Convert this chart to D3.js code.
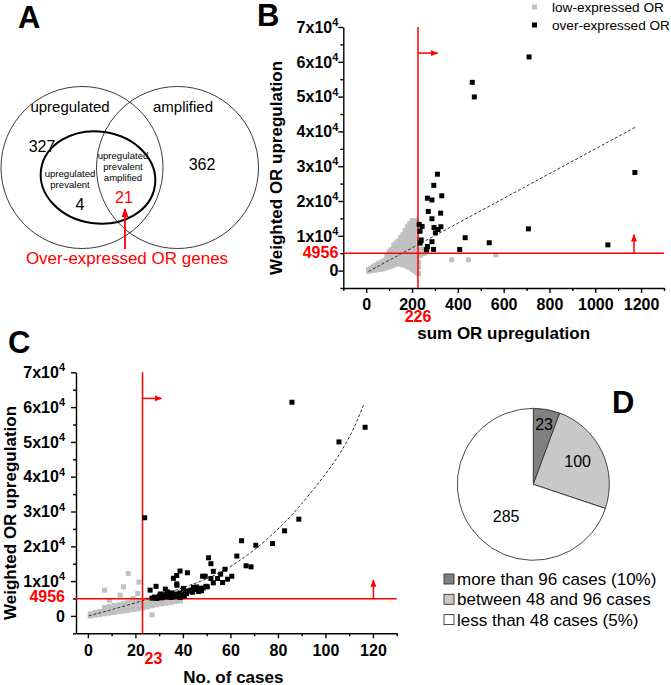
<!DOCTYPE html>
<html>
<head>
<meta charset="utf-8">
<script src="https://cdn.jsdelivr.net/npm/d3@7"></script>
<style>
body { margin: 0; background: #fff; }
text { font-family: "Liberation Sans", Arial, sans-serif; }
</style>
</head>
<body>
<div id="fig"></div>
<script>
// ---- data ----
const vennSets = ["upregulated", "amplified"];
const vennCounts = [327, 4, 21, 362];   // up only, up+prevalent, up+prev+amp, amp only

const pieLabels = ["more than 96 cases (10%)", "between 48 and 96 cases", "less than 48 cases (5%)"];
const pieValues = [23, 100, 285];
const pieColors = ["#808080", "#c8c8c8", "#ffffff"];

const cutoffWeighted = 4956;
const cutoffSum = 226;
const cutoffCases = 23;

const yTicks = [0, 10000, 20000, 30000, 40000, 50000, 60000, 70000];
const yMinor = [-5000, 5000, 15000, 25000, 35000, 45000, 55000, 65000];
const bXTicks = [0, 200, 400, 600, 800, 1000, 1200];
const bXMinor = [-100, 100, 300, 500, 700, 900, 1100, 1300];
const cXTicks = [0, 20, 40, 60, 80, 100, 120];
const cXMinor = [10, 30, 50, 70, 90, 110, 130];

// panel B: sum OR upregulation vs weighted OR upregulation
const bOver = [[711,61400],[463,54100],[472,49900],[1173,28200],[311,27700],[295,24500],[330,21500],[267,20800],
  [287,20300],[271,17000],[325,16500],[287,14900],[231,13300],[244,12700],[296,12400],[326,12600],[314,11800],
  [302,10850],[235,11300],[708,12000],[432,9450],[537,8000],[1055,7400],[408,6050],[240,8800],[235,7900],
  [287,8300],[267,6900],[263,6000],[294,6100]];
const bLow = [[10,-200],[10,300],[20,0],[20,700],[30,100],[30,1100],[40,200],[40,1500],[50,300],[50,1000],[50,1900],
  [60,400],[60,1200],[60,2200],[70,500],[70,1400],[70,2500],[80,700],[80,1700],[80,2900],[90,900],[90,1900],[90,3100],
  [90,4200],[100,1100],[100,2100],[100,3300],[100,4500],[100,5500],[110,1300],[110,2400],[110,3600],[110,4800],
  [110,6000],[120,1600],[120,2700],[120,3900],[120,5100],[120,6300],[120,7300],[130,1900],[130,3000],[130,4200],
  [130,5400],[130,6600],[130,7900],[140,2200],[140,3300],[140,4500],[140,5700],[140,7000],[140,8500],[150,1900],
  [150,3000],[150,4200],[150,5400],[150,6700],[150,8000],[150,9500],[160,1600],[160,2800],[160,4000],[160,5200],
  [160,6500],[160,7800],[160,9000],[160,10300],[170,1500],[170,2700],[170,3900],[170,5100],[170,6400],[170,7700],
  [170,9000],[170,10300],[170,11500],[180,1200],[180,2400],[180,3700],[180,5000],[180,6200],[180,7500],[180,8800],
  [180,10100],[180,11400],[180,12600],[190,900],[190,2100],[190,3500],[190,4800],[190,6000],[190,7300],[190,8600],
  [190,9900],[190,11200],[190,12500],[190,13500],[200,400],[200,1600],[200,3000],[200,4300],[200,5600],[200,7000],
  [200,8300],[200,9600],[200,10800],[200,12000],[200,13300],[200,14300],[210,0],[210,1200],[210,2500],[210,3800],
  [210,5100],[210,6400],[210,7700],[210,9000],[210,10300],[210,11600],[210,13000],[210,14400],[220,-600],[220,600],
  [220,2000],[220,3400],[220,4600],[220,6000],[220,9000],[220,11500],[220,12800],[220,14200],[228,-900],[228,1000],
  [228,2400],[228,5200],[236,4300],[240,8200],[242,6200],[252,4900],[262,5400],[267,6200],[373,3100],[446,3100],[566,4500]];
const bTrend = [[10,-250],[1175,41200]];

// panel C: no. of cases vs weighted OR upregulation
const cOver = [[85.9,61400],[116.7,54200],[105.7,50000],[23.9,28200],[88.8,27800],[82.8,24450],[77.7,20800],
  [70.7,20300],[64.7,21600],[62.7,17200],[66.6,14400],[68.7,14100],[50.8,16700],[51.8,15000],[57.7,13400],
  [52.8,12800],[55.9,12000],[60.6,11400],[58.8,10550],[56.7,9600],[52.8,9500],[54.6,10750],[51.8,10750],
  [50.3,8350],[48.3,11400],[49.4,11400],[38.8,12900],[41.9,12400],[37.4,11600],[36,10800],[37.4,9200],
  [28.7,8500],[26.2,7400],[27,5100],[28,5400],[29,5000],[30,5700],[31,5200],[32,6100],[32.6,7700],[33,5400],
  [34,5800],[35,5300],[35.5,6600],[36,6200],[37,5500],[37.5,8800],[38,6300],[38.8,6600],[39,5300],[39.8,6000],
  [40.2,7900],[40.6,5700],[41,6500],[41.6,6400],[42,7200],[43.3,7400],[44,6800],[44.4,8200],[45.8,8300],
  [45.8,7600],[46.5,7000],[47.2,7900],[47.8,7200],[48.5,8000],[49.7,8500],[33.5,6900],[30.5,6300]];
const cLow = [[1,0],[1,600],[3,200],[3,1000],[5,400],[5,1300],[7,600],[7,1600],[7,2400],[9,800],[9,1800],[9,2700],
  [11,1000],[11,2000],[11,3000],[13,1200],[13,2200],[13,3200],[15,1400],[15,2500],[15,3500],[17,1600],[17,2700],
  [17,3800],[19,1800],[19,2900],[19,4000],[21,2000],[21,3100],[21,4200],[23,2300],[23,3300],[23,4500],[25,2600],
  [25,3600],[25,4700],[27,2900],[27,3900],[27,4900],[29,3200],[29,4200],[31,3500],[31,4500],[33,3700],[33,4700],
  [35,3900],[35,4900],[37,4100],[37,5100],[39,4300],[7,7400],[9,4500],[13.6,5950],[15,8350],[17,12200],[21,6450],
  [21.5,9700],[27,300],[19,5000]];
const cTrend = [[0.3,0],[10,1800],[23,4300],[35,6900],[47.2,9800],[54.2,11900],[61.2,14600],[68.2,17950],
  [75.2,21800],[82.2,26400],[87.8,30400],[93.4,35000],[99,39800],[103.9,44300],[108.8,49600],[113,55350],[116.2,60900]];

// ---- drawing ----
const W = 671, H = 685;
const svg = d3.select("#fig").append("svg")
  .attr("width", W)
  .attr("height", H)
  .style("background", "#fff");

svg.append("defs").append("marker")
  .attr("id", "arr")
  .attr("viewBox", "0 0 10 10")
  .attr("refX", 9).attr("refY", 5)
  .attr("markerWidth", 5).attr("markerHeight", 5)
  .attr("orient", "auto")
  .append("path").attr("d", "M0,1L10,5L0,9Z").attr("fill", "#ff0000");

const panelLabel = (txt, x, y) => svg.append("text")
  .attr("x", x).attr("y", y)
  .attr("font-size", 31).attr("font-weight", "bold")
  .text(txt);

function scatter(o) {
  const g = svg.append("g");
  const x = d3.scaleLinear().domain(o.xDom).range(o.xr);
  const y = d3.scaleLinear().domain([-5000, 70000]).range(o.yr);

  // minor ticks first
  g.append("g").attr("transform", `translate(0,${o.yr[0]})`)
    .call(d3.axisBottom(x).tickValues(o.xMinor).tickSize(3).tickFormat(""))
    .call(s => s.select(".domain").remove());
  g.append("g").attr("transform", `translate(${o.xr[0]},0)`)
    .call(d3.axisLeft(y).tickValues(yMinor).tickSize(3).tickFormat(""))
    .call(s => s.select(".domain").remove());

  const ax = g.append("g").attr("transform", `translate(0,${o.yr[0]})`)
    .call(d3.axisBottom(x).tickValues(o.xTicks).tickSize(5).tickSizeOuter(0).tickPadding(6)
      .tickFormat(d3.format("d")));
  ax.selectAll("text").attr("font-size", 16).attr("font-weight", "bold").attr("fill", "#000");
  g.append("g").attr("transform", `translate(${o.xr[0]},0)`)
    .call(d3.axisLeft(y).tickValues(yTicks).tickSize(5).tickSizeOuter(0).tickFormat(""));
  g.selectAll(".domain, .tick line").attr("stroke", "#000").attr("stroke-width", 1.4);

  // y tick labels with superscript
  const yl = g.append("g").selectAll("text").data(yTicks).enter().append("text")
    .attr("x", o.xr[0] - o.yLabelGap)
    .attr("y", d => y(d))
    .attr("dy", "0.36em")
    .attr("text-anchor", "end")
    .attr("font-size", 16).attr("font-weight", "bold");
  yl.each(function(d) {
    const t = d3.select(this);
    if (d === 0) { t.text("0"); return; }
    t.append("tspan").text(d / 10000 + "x10");
    t.append("tspan").attr("font-size", 11).attr("dy", "-0.6em").text("4");
  });

  // low-expressed points
  g.append("g").selectAll("rect").data(o.low).enter().append("rect")
    .attr("x", d => x(d[0]) - 2.5).attr("y", d => y(d[1]) - 2.5)
    .attr("width", 5).attr("height", 5).attr("fill", "#c0c0c0");

  // trend line
  g.append("path").datum(o.trend)
    .attr("d", d3.line().x(d => x(d[0])).y(d => y(d[1])).curve(d3.curveBasis))
    .attr("fill", "none").attr("stroke", "#333").attr("stroke-width", 1)
    .attr("stroke-dasharray", "3,2");

  // cutoff lines
  g.append("line").attr("x1", x(o.cutX)).attr("x2", x(o.cutX))
    .attr("y1", o.yr[0]).attr("y2", o.yr[1])
    .attr("stroke", "#ff0000").attr("stroke-width", 1.5);
  g.append("line").attr("x1", o.xr[0]).attr("x2", o.xr[1])
    .attr("y1", y(cutoffWeighted)).attr("y2", y(cutoffWeighted))
    .attr("stroke", "#ff0000").attr("stroke-width", 1.5);
  g.append("line").attr("x1", x(o.cutX)).attr("x2", x(o.arrowRight[1]))
    .attr("y1", y(o.arrowRight[0])).attr("y2", y(o.arrowRight[0]))
    .attr("stroke", "#ff0000").attr("stroke-width", 1.5).attr("marker-end", "url(#arr)");
  g.append("line").attr("x1", x(o.arrowUp[0])).attr("x2", x(o.arrowUp[0]))
    .attr("y1", y(cutoffWeighted)).attr("y2", y(o.arrowUp[1]))
    .attr("stroke", "#ff0000").attr("stroke-width", 1.5).attr("marker-end", "url(#arr)");

  // over-expressed points
  g.append("g").selectAll("rect").data(o.over).enter().append("rect")
    .attr("x", d => x(d[0]) - 2.5).attr("y", d => y(d[1]) - 2.5)
    .attr("width", 5).attr("height", 5).attr("fill", "#000");

  // cutoff labels
  g.append("text").attr("x", o.xr[0] - o.cutYGap).attr("y", y(cutoffWeighted) + 3 + o.cutYdy)
    .attr("text-anchor", "end").attr("font-size", 16).attr("font-weight", "bold")
    .attr("fill", "#ff0000").text(cutoffWeighted);
  g.append("text").attr("x", x(o.cutX) + o.cutXdx).attr("y", o.cutXbase)
    .attr("text-anchor", "middle").attr("font-size", 16).attr("font-weight", "bold")
    .attr("fill", "#ff0000").text(o.cutX);

  // axis titles
  g.append("text").attr("x", (o.xr[0] + o.xr[1]) / 2 + o.xTitleDx).attr("y", o.xTitleY)
    .attr("text-anchor", "middle").attr("font-size", 17).attr("font-weight", "bold")
    .text(o.xTitle);
  g.append("text")
    .attr("transform", `translate(${o.yTitleX},${o.yTitleY}) rotate(-90)`)
    .attr("text-anchor", "middle").attr("font-size", 17).attr("font-weight", "bold")
    .text("Weighted OR upregulation");
  return { x, y };
}

// ---- panel A: Venn ----
panelLabel("A", 18, 28);
const va = svg.append("g");
va.append("circle").attr("cx", 82).attr("cy", 167.5).attr("r", 81)
  .attr("fill", "none").attr("stroke", "#222").attr("stroke-width", 0.9);
va.append("circle").attr("cx", 177.5).attr("cy", 167.5).attr("r", 81)
  .attr("fill", "none").attr("stroke", "#222").attr("stroke-width", 0.9);
va.append("ellipse").attr("cx", 98).attr("cy", 177.5).attr("rx", 57.5).attr("ry", 46)
  .attr("transform", "rotate(8,98,177.5)")
  .attr("fill", "none").attr("stroke", "#000").attr("stroke-width", 2);
va.append("text").attr("x", 70).attr("y", 112).attr("text-anchor", "middle").attr("font-size", 15).text(vennSets[0]);
va.append("text").attr("x", 183).attr("y", 112).attr("text-anchor", "middle").attr("font-size", 15).text(vennSets[1]);
va.append("text").attr("x", 42).attr("y", 152).attr("text-anchor", "middle").attr("font-size", 16).text(vennCounts[0]);
va.append("text").attr("x", 202).attr("y", 170).attr("text-anchor", "middle").attr("font-size", 16).text(vennCounts[3]);
[["upregulated", 177], ["prevalent", 188]].forEach(t =>
  va.append("text").attr("x", 70).attr("y", t[1]).attr("text-anchor", "middle").attr("font-size", 9.6).text(t[0]));
va.append("text").attr("x", 80).attr("y", 210).attr("text-anchor", "middle").attr("font-size", 16).text(vennCounts[1]);
[["upregulated", 159], ["prevalent", 170], ["amplified", 181]].forEach(t =>
  va.append("text").attr("x", 123).attr("y", t[1]).attr("text-anchor", "middle").attr("font-size", 9.6).text(t[0]));
va.append("text").attr("x", 124).attr("y", 203).attr("text-anchor", "middle").attr("font-size", 16)
  .attr("fill", "#ff0000").text(vennCounts[2]);
va.append("line").attr("x1", 125).attr("x2", 125).attr("y1", 249).attr("y2", 209)
  .attr("stroke", "#ff0000").attr("stroke-width", 1.8).attr("marker-end", "url(#arr)");
va.append("text").attr("x", 127).attr("y", 264).attr("text-anchor", "middle").attr("font-size", 17)
  .attr("fill", "#ff0000").text("Over-expressed OR genes");

// ---- panel B ----
panelLabel("B", 257, 26);
scatter({
  xDom: [-100, 1300], xr: [343.3, 664], yr: [288, 27],
  xTicks: bXTicks, xMinor: bXMinor,
  low: bLow, over: bOver, trend: bTrend,
  cutX: cutoffSum, arrowRight: [62500, 312], arrowUp: [1169, 10300],
  yLabelGap: 5, cutYGap: 5, cutYdy: 2, cutXdx: 0, cutXbase: 322,
  xTitle: "sum OR upregulation", xTitleDx: 0, xTitleY: 339,
  yTitleX: 282, yTitleY: 168
});
// legend
const lg = svg.append("g");
[["low-expressed OR", "#c0c0c0", 7], ["over-expressed OR", "#000", 25]].forEach(r => {
  lg.append("rect").attr("x", 532).attr("y", r[2] - 2.5).attr("width", 5).attr("height", 5).attr("fill", r[1]);
  lg.append("text").attr("x", 552).attr("y", r[2] + 5).attr("font-size", 13.6).text(r[0]);
});

// ---- panel C ----
panelLabel("C", 8, 353);
scatter({
  xDom: [-5, 130], xr: [76, 396.7], yr: [633.3, 372.3],
  xTicks: cXTicks, xMinor: cXMinor,
  low: cLow, over: cOver, trend: cTrend,
  cutX: cutoffCases, arrowRight: [62500, 31], arrowUp: [120.2, 10300],
  yLabelGap: 11, cutYGap: 11, cutYdy: 0, cutXdx: 11, cutXbase: 664,
  xTitle: "No. of cases", xTitleDx: -3, xTitleY: 683,
  yTitleX: 16, yTitleY: 513
});

// ---- panel D: pie ----
panelLabel("D", 612, 413);
const pc = [533.3, 484.3], pr = 76;
const pieG = svg.append("g").attr("transform", `translate(${pc[0]},${pc[1]})`);
const arcs = d3.pie().sort(null)(pieValues);
pieG.selectAll("path").data(arcs).enter().append("path")
  .attr("d", d3.arc().innerRadius(0).outerRadius(pr))
  .attr("fill", (d, i) => pieColors[i])
  .attr("stroke", "#333").attr("stroke-width", 0.9);
const labelPos = [[61, 0], [50, -2], [42, -14]];   // radius, angle nudge (deg)
pieG.selectAll("text").data(arcs).enter().append("text")
  .attr("x", (d, i) => labelPos[i][0] * Math.sin((d.startAngle + d.endAngle) / 2 + labelPos[i][1] * Math.PI / 180))
  .attr("y", (d, i) => -labelPos[i][0] * Math.cos((d.startAngle + d.endAngle) / 2 + labelPos[i][1] * Math.PI / 180))
  .attr("dy", "0.36em").attr("text-anchor", "middle").attr("font-size", 16)
  .text(d => d.data);

const pl = svg.append("g");
pieLabels.forEach((t, i) => {
  pl.append("rect").attr("x", 444).attr("y", 574 + i * 20.3).attr("width", 10).attr("height", 10)
    .attr("fill", pieColors[i]).attr("stroke", "#333").attr("stroke-width", 0.9);
  pl.append("text").attr("x", 457).attr("y", 585 + i * 20.3).attr("font-size", 17).text(t);
});
</script>
</body>
</html>
